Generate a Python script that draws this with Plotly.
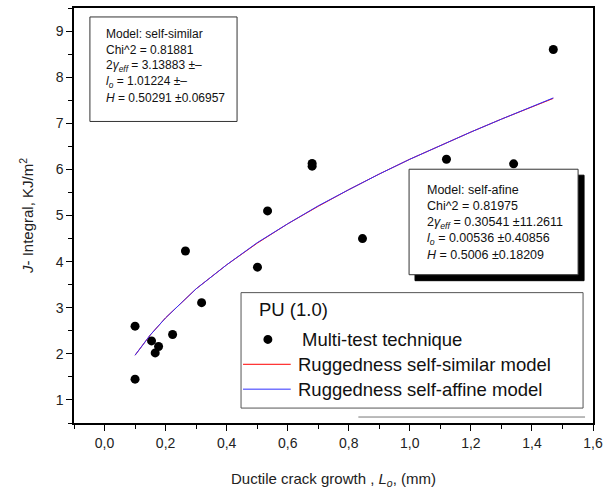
import plotly.graph_objects as go

# ---- data ----
crack_growth = [0.10, 0.10, 0.154, 0.177, 0.166, 0.223, 0.318, 0.265, 0.501, 0.534,
                0.845, 0.68, 0.68, 1.12, 1.34, 1.47]
j_integral = [2.60, 1.45, 2.28, 2.16, 2.02, 2.42, 3.11, 4.23, 3.88, 5.10,
              4.50, 6.13, 6.07, 6.22, 6.12, 8.60]

curve_x = [0.10, 0.15, 0.20, 0.30, 0.40, 0.50, 0.60, 0.70, 0.80, 0.90,
           1.00, 1.10, 1.20, 1.30, 1.40, 1.47]
self_similar_y = [1.97, 2.41, 2.78, 3.41, 3.93, 4.40, 4.82, 5.20, 5.56, 5.90,
                  6.22, 6.52, 6.81, 7.09, 7.36, 7.54]
self_affine_y = [1.97, 2.41, 2.78, 3.41, 3.93, 4.41, 4.82, 5.21, 5.56, 5.90,
                 6.22, 6.52, 6.81, 7.09, 7.36, 7.55]

x_ticks = [0.0, 0.2, 0.4, 0.6, 0.8, 1.0, 1.2, 1.4, 1.6]
x_tick_labels = ["0,0", "0,2", "0,4", "0,6", "0,8", "1,0", "1,2", "1,4", "1,6"]
y_ticks = [1, 2, 3, 4, 5, 6, 7, 8, 9]

box1_lines = ["Model: self-similar",
              "Chi^2 = 0.81881",
              "2<i>γ</i><sub><i>eff</i></sub> = 3.13883 ±–",
              "<i>l</i><sub><i>o</i></sub> = 1.01224 ±–",
              "<i>H</i> = 0.50291 ±0.06957"]
box2_lines = ["Model: self-afine",
              "Chi^2 = 0.81975",
              "2<i>γ</i><sub><i>eff</i></sub> = 0.30541 ±11.2611",
              "<i>l</i><sub><i>o</i></sub> = 0.00536 ±0.40856",
              "<i>H</i> = 0.5006 ±0.18209"]

legend_title = "PU (1.0)"
legend_names = ["Multi-test technique",
                "Ruggedness self-similar model",
                "Ruggedness self-affine model"]

W, H = 609, 496
L, R, T, B = 74, 13, 6, 73
PW, PH = W - L - R, H - T - B
FONT = "Arial, 'Liberation Sans', sans-serif"
RED, BLUE = "#ff0000", "#3030ff"


def px(xp):
    return (xp - L) / PW


def py(yp):
    return (H - B - yp) / PH


fig = go.Figure()
fig.add_trace(go.Scatter(x=crack_growth, y=j_integral, mode="markers",
                         marker=dict(color="black", size=9),
                         name=legend_names[0], showlegend=False))
fig.add_trace(go.Scatter(x=curve_x, y=self_similar_y, mode="lines",
                         line=dict(color=RED, width=1),
                         name=legend_names[1], showlegend=False))
fig.add_trace(go.Scatter(x=curve_x, y=self_affine_y, mode="lines",
                         line=dict(color=BLUE, width=1),
                         name=legend_names[2], showlegend=False))

axis_common = dict(showline=True, linecolor="black", linewidth=1.5, mirror=True,
                   showgrid=False, zeroline=False, ticks="outside", ticklen=6,
                   tickcolor="black", tickwidth=1.2,
                   tickfont=dict(family=FONT, size=14, color="#222"))

fig.update_xaxes(range=[-0.1, 1.6], tickvals=x_ticks, ticktext=x_tick_labels,
                 minor=dict(dtick=0.1, ticks="outside", ticklen=4, tickcolor="black"),
                 title=dict(text="Ductile crack growth , <i>L</i><sub><i>o</i></sub>, (mm)",
                            font=dict(family=FONT, size=15, color="#222"), standoff=24),
                 **axis_common)
fig.update_yaxes(range=[0.5, 9.5], tickvals=y_ticks,
                 minor=dict(dtick=0.5, ticks="outside", ticklen=4, tickcolor="black"),
                 title=dict(text="<i>J</i>- Integral, KJ/m<sup>2</sup>",
                            font=dict(family=FONT, size=15, color="#222"), standoff=18),
                 **axis_common)

shapes = []
annotations = []


def rect(x0, y0, x1, y1, color, fill, width=1):
    shapes.append(dict(type="rect", xref="paper", yref="paper",
                       x0=px(x0), x1=px(x1), y0=py(y0), y1=py(y1),
                       line=dict(color=color, width=width), fillcolor=fill, layer="above"))


def label(x, y, t, size):
    annotations.append(dict(text=t, xref="paper", yref="paper",
                            x=px(x), y=py(y), xanchor="left", yanchor="middle",
                            showarrow=False, font=dict(family=FONT, size=size, color="#111")))


def text_box(x0, y0, x1, y1, lines, tx, ty0, dy, size, shadow=0):
    if shadow:
        rect(x0 + shadow, y0 + shadow, x1 + shadow, y1 + shadow, "black", "black")
    rect(x0, y0, x1, y1, "#333", "white")
    for i, t in enumerate(lines):
        label(tx, ty0 + i * dy, t, size)


text_box(90, 15, 238, 120, box1_lines, 104, 32, 16.2, 12)
text_box(411, 168, 581, 274, box2_lines, 427, 189, 16.3, 12.5, shadow=6)

# hand-drawn legend frame, as in the reference
rect(242, 292, 586, 408, "#555", "white")
shapes.append(dict(type="line", xref="paper", yref="paper",
                   x0=px(360), x1=px(588), y0=py(417), y1=py(417),
                   line=dict(color="#777", width=1)))
label(258, 309, legend_title, 18.5)
shapes.append(dict(type="circle", xref="paper", yref="paper",
                   x0=px(264.5), x1=px(273.5), y0=py(334.5), y1=py(343.5),
                   fillcolor="black", line=dict(color="black", width=0)))
label(301, 339, legend_names[0], 18.5)
shapes.append(dict(type="line", xref="paper", yref="paper",
                   x0=px(244), x1=px(292), y0=py(364), y1=py(364),
                   line=dict(color=RED, width=1)))
label(297, 364, legend_names[1], 18.5)
shapes.append(dict(type="line", xref="paper", yref="paper",
                   x0=px(244), x1=px(292), y0=py(389), y1=py(389),
                   line=dict(color=BLUE, width=1)))
label(297, 389, legend_names[2], 18.5)

fig.update_layout(
    width=W, height=H,
    margin=dict(l=L, r=R, t=T, b=B),
    paper_bgcolor="white", plot_bgcolor="white",
    shapes=shapes, annotations=annotations,
    showlegend=False,
)

fig.write_html("out.html", config={"displayModeBar": False},
               post_script="document.body.style.margin='0';document.body.style.overflow='hidden';")
